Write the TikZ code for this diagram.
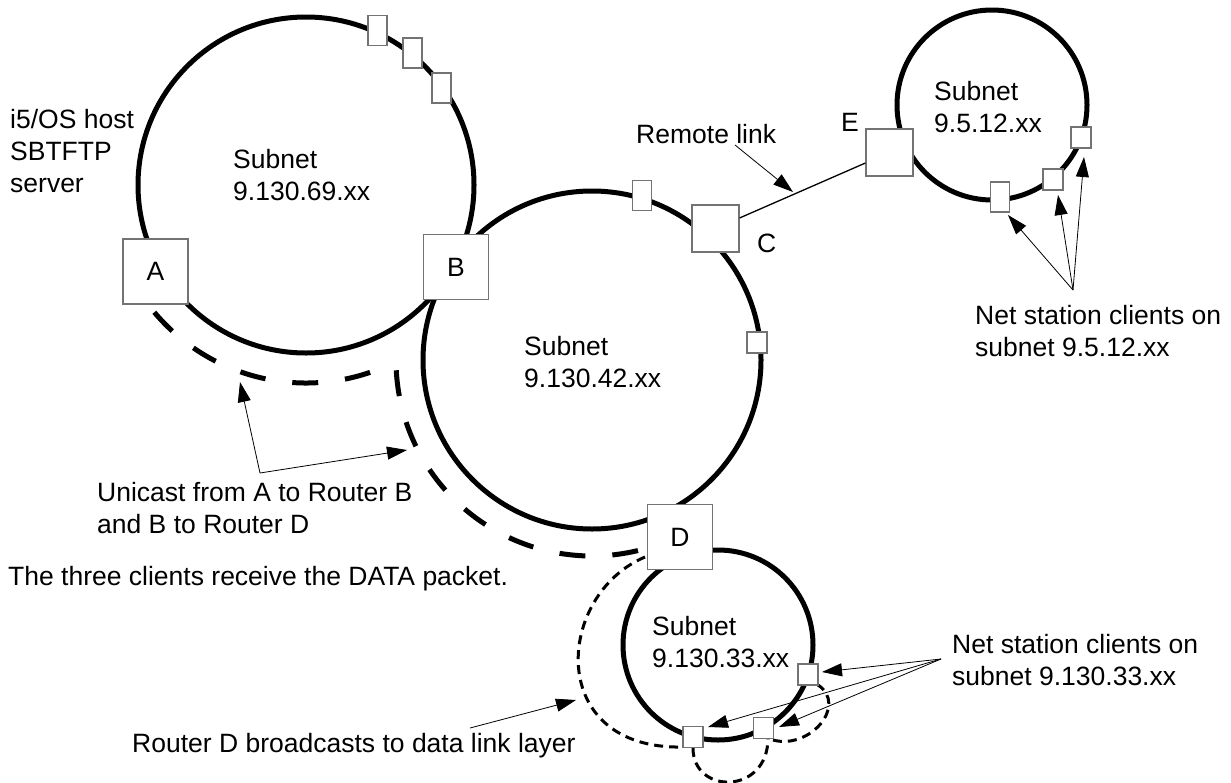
\documentclass[tikz,border=0pt]{standalone}
\usepackage{fontspec}
\setmainfont{Liberation Sans}
\usetikzlibrary{arrows.meta}
\newcommand\dgmfont{\fontsize{26.5}{32}\selectfont}
\begin{document}
\begin{tikzpicture}[x=1pt,y=-1pt,
  every node/.style={font=\dgmfont, inner sep=0pt},
  ring/.style={line width=5pt, draw=black},
  router/.style={draw=black!55, fill=white, line width=1.3pt, minimum width=65pt, minimum height=65pt},
  gate/.style={draw=black!55, fill=white, line width=1.3pt, minimum width=47pt, minimum height=47pt},
  tallclient/.style={draw=black!55, fill=white, line width=1.3pt, minimum width=19pt, minimum height=30pt},
  client/.style={draw=black!55, fill=white, line width=1.3pt, minimum width=20pt, minimum height=21pt},
  unicast/.style={line width=5pt, dash pattern=on 26pt off 27pt},
  bcast/.style={line width=3pt, dash pattern=on 9pt off 6pt},
  ptr/.style={line width=0.8pt, -{Triangle[length=20pt,width=13pt]}},
  txt/.style={anchor=base west, align=left}
]
\useasboundingbox (0,0) rectangle (1231,782);
\fill[white] (0,0) rectangle (1231,782);
% subnet centres
\coordinate (c1) at (306,185);
\coordinate (c2) at (592,360);
\coordinate (c3) at (992,105);
\coordinate (c4) at (718,645);
% rings
\draw[ring] (c1) circle[radius=168pt];
\draw[ring] (c2) circle[radius=169pt];
\draw[ring] (c3) circle[radius=95pt];
\draw[ring] (c4) circle[radius=95pt];
% unicast paths
\draw[unicast] ([shift={(220:198pt)}]c1) arc[start angle=220, end angle=289, radius=198pt];
\draw[unicast] ([shift={(183:196pt)}]c2) arc[start angle=183, end angle=286, radius=196pt];
% broadcast paths
\coordinate (b0) at (645,557);
\coordinate (b1) at (683,747);
\coordinate (b2) at (693,748);
\coordinate (b3) at (768,738);
\coordinate (b4) at (773,740);
\coordinate (b5) at (818,685);
\draw[bcast] (b0) .. controls (555,595) and (545,750) .. (b1);
\draw[bcast] (b2) .. controls (693,795) and (768,795) .. (b3);
\draw[bcast] (b4) .. controls (810,750) and (848,705) .. (b5);
% routers
\node[router] (A) at (155.5,271.5) {A};
\node[router] (B) at (456,267) {B};
\node[router] (D) at (680,537) {D};
\node[gate] (C) at (715.5,228.5) {};
\node[gate] (E) at (889.5,152.5) {};
% clients
\node[tallclient] (k1) at (377.5,30.5) {};
\node[tallclient] (k2) at (412.5,53) {};
\node[tallclient] (k3) at (441.5,88) {};
\node[tallclient] (k4) at (642,195.5) {};
\node[client] (k5) at (757,342.5) {};
\node[tallclient] (n1) at (1000,197) {};
\node[client] (n2) at (1053,179.5) {};
\node[client] (n3) at (1081,137.5) {};
\node[client] (m1) at (808,674.5) {};
\node[client] (m2) at (763.5,728) {};
\node[client] (m3) at (693,737) {};
% remote link
\draw[line width=1.3pt] (C) -- (E);
% labels (base = baseline of the last line)
\node[txt] (host) at (10,192) {i5/OS host\\SBTFTP\\server};
\node[txt] (s1) at (233,200) {Subnet\\9.130.69.xx};
\node[txt] (s2) at (524,387) {Subnet\\9.130.42.xx};
\node[txt] (s3) at (934,132) {Subnet\\9.5.12.xx};
\node[txt] (s4) at (652,667) {Subnet\\9.130.33.xx};
\node[txt] (lC) at (757,252) {C};
\node[txt] (lE) at (841,131) {E};
\node[txt] (rl) at (636,143) {Remote link};
\node[txt] (ns1) at (975,356) {Net station clients on\\subnet 9.5.12.xx};
\node[txt] (ns2) at (952,685) {Net station clients on\\subnet 9.130.33.xx};
\node[txt] (uc) at (97,533) {Unicast from A to Router B\\and B to Router D};
\node[txt] (tc) at (8,585) {The three clients receive the DATA packet.};
\node[txt] (rd) at (132,752) {Router D broadcasts to data link layer};
% pointers
\coordinate (rl0) at (735,145);
\coordinate (rl1) at (793,192);
\draw[ptr] (rl0) -- (rl1);
\coordinate (p1) at (1073,290);
\coordinate (t1) at (1008,215);
\coordinate (t2) at (1058,195);
\coordinate (t3) at (1084,157);
\draw[ptr] (p1) -- (t1);
\draw[ptr] (p1) -- (t2);
\draw[ptr] (p1) -- (t3);
\coordinate (p2) at (941,659);
\coordinate (u1) at (822,672);
\coordinate (u2) at (779,727);
\coordinate (u3) at (708,727);
\draw[ptr] (p2) -- (u1);
\draw[ptr] (p2) -- (u2);
\draw[ptr] (p2) -- (u3);
\coordinate (q0) at (260,473);
\coordinate (q1) at (240,382);
\coordinate (q2) at (407,450);
\draw[ptr] (q0) -- (q1);
\draw[ptr] (q0) -- (q2);
\coordinate (r0) at (470,728);
\coordinate (r1) at (576,700);
\draw[ptr] (r0) -- (r1);
\end{tikzpicture}
\end{document}
